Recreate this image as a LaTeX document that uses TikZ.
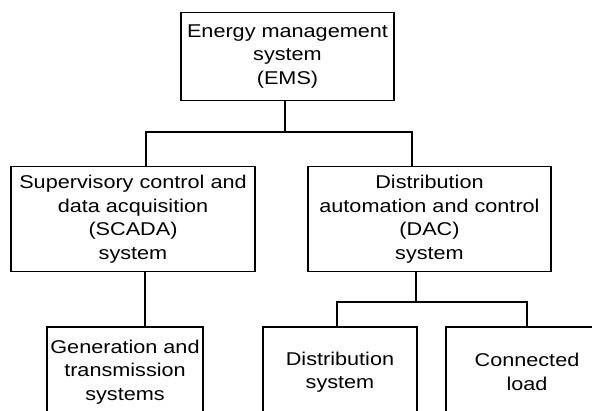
\documentclass[tikz,border=0pt]{standalone}
\usepackage{fontspec}
\setmainfont[FakeStretch=1.17]{Liberation Sans}

\tikzset{
	boite/.style={draw,line width=1.1pt,inner sep=0pt,align=center,font=\fontsize{18.5}{23.5}\selectfont},
	lien/.style={line width=1.7pt},
}

\begin{document}
\begin{tikzpicture}[x=1pt,y=-1pt]
	\useasboundingbox (0,0) rectangle (592,410);
	\clip (0,0) rectangle (592,410);
	\coordinate (barre) at (0,132); % niveau de la barre du haut
	\coordinate (sousbarre) at (0,302); % niveau de la barre du bas
	\node[boite,minimum width=213pt,minimum height=88pt] (ems) at (287.5,56.5) {Energy management\\system\\(EMS)};
	\node[boite,minimum width=244pt,minimum height=105pt] (scada) at (133,219) {Supervisory control and\\data acquisition\\(SCADA)\\system};
	\node[boite,minimum width=243pt,minimum height=105pt] (dac) at (429.5,219) {Distribution\\automation and control\\(DAC)\\system};
	\node[boite,minimum width=156pt,minimum height=90pt] (gen) at (125,372) {Generation and\\transmission\\systems};
	\node[boite,minimum width=154pt,minimum height=90pt] (distrib) at (340,372) {Distribution\\system};
	\node[boite,minimum width=162pt,minimum height=90pt] (charge) at (527,372) {Connected\\load};
	\draw[lien] ([xshift=-2.5pt]ems.south) -- ([xshift=-2.5pt]ems.south |- barre);
	\draw[lien] ([xshift=13pt]scada.north) -- ([xshift=13pt]scada.north |- barre) -- ([xshift=-17.5pt]dac.north |- barre) -- ([xshift=-17.5pt]dac.north);
	\draw[lien] ([xshift=12pt]scada.south) -- ([xshift=12pt]scada.south |- gen.north);
	\draw[lien] ([xshift=-13.5pt]dac.south) -- ([xshift=-13.5pt]dac.south |- sousbarre);
	\draw[lien] ([xshift=-3pt]distrib.north) -- ([xshift=-3pt]distrib.north |- sousbarre) -- (charge.north |- sousbarre) -- (charge.north);
\end{tikzpicture}
\end{document}
